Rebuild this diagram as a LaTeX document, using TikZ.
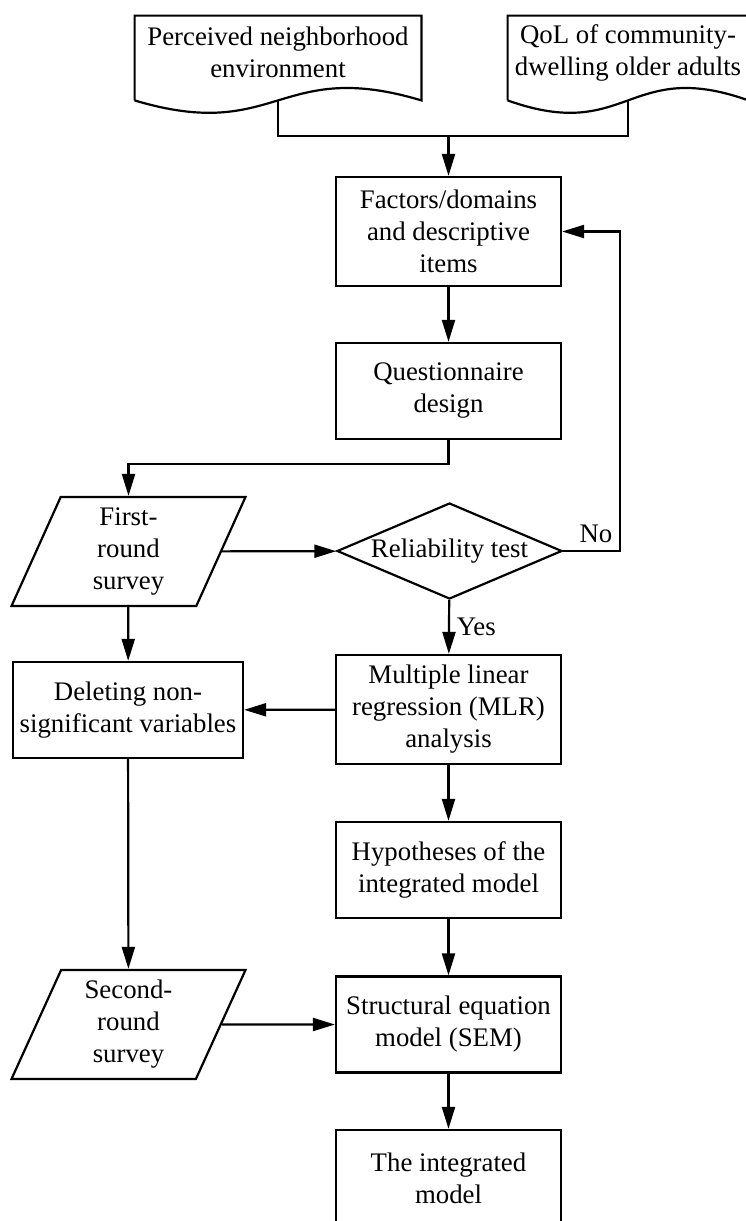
\documentclass[tikz,border=0pt]{standalone}
\usepackage{fontspec}
\setmainfont{Liberation Serif}
\usetikzlibrary{shapes.geometric,arrows.meta,calc}

\tikzset{
  stage/.style={draw, line width=1.1pt, minimum width=112.5pt, minimum height=48pt, inner xsep=2pt, align=center},
  survey/.style={draw, line width=1.1pt, trapezium, trapezium left angle=64, trapezium right angle=116,
    trapezium stretches body, minimum width=117pt, minimum height=54.5pt, inner xsep=2pt, align=center},
  check/.style={draw, line width=1.1pt, diamond, aspect=2.34, minimum width=112.5pt, minimum height=48pt,
    inner sep=0pt, align=center},
  source/.style={minimum width=143pt, minimum height=36.5pt, align=center},
  flow/.style={line width=1.1pt, -{Triangle[length=11pt,width=6.5pt]}},
  link/.style={line width=1.1pt}
}

\begin{document}
\begin{tikzpicture}[x=0.5pt, y=-0.5pt, font=\fontsize{13.4pt}{16pt}\selectfont]
\useasboundingbox (0,0) rectangle (745,1221);
% input documents
\node[source] (env) at (278,52.5) {Perceived neighborhood\\environment};
\node[source, minimum width=120pt] (qol) at (628,52.5) {QoL of community-\\dwelling older adults};
\foreach \d in {env,qol} {
  \coordinate (\d-tip) at ([yshift=-5.5pt]\d.south);
  \draw[link] ([yshift=-5.5pt]\d.south west) -- (\d.north west) -- (\d.north east) -- ([yshift=-5.5pt]\d.south east)
    .. controls ($(\d-tip)+(0,-43)$) and ($(\d-tip)+(0,43)$) .. ([yshift=-5.5pt]\d.south west);
}

% main column
\node[stage, minimum height=54.5pt] (factors) at (448.5,231.5) {Factors/domains\\and descriptive\\items};
\node[stage] (design) at (448.5,391) {Questionnaire\\design};
\node[survey] (round1) at (128.5,551.5) {First-\\round\\survey};
\node[check] (test) at (449.5,551) {Reliability test};
\node[stage, minimum height=54.5pt] (mlr) at (448.5,709.5) {Multiple linear\\regression (MLR)\\analysis};
\node[stage, minimum width=115pt] (delete) at (128,710) {Deleting non-\\significant variables};
\node[stage] (hyp) at (448.5,870) {Hypotheses of the\\integrated model};
\node[survey] (round2) at (128.5,1024.5) {Second-\\round\\survey};
\node[stage] (sem) at (448.5,1024.5) {Structural equation\\model (SEM)};
\node[stage] (model) at (448.5,1178) {The integrated\\model};

% connectors
\coordinate (join) at (448.5,136);
\draw[link] (env-tip) |- (join) -| (qol-tip);
\draw[flow] (join) -- (factors);
\draw[flow] (factors) -- (design);
\draw[flow] (design.south) -- ++(0,24) -| (round1.north);
\draw[flow] (round1) -- (test);
\draw[flow] (test.east) -- ++(57,0) node[above left] {No} |- (factors.east);
\draw[flow] (test) -- node[right] {Yes} (mlr);
\draw[flow] (round1) -- (delete);
\draw[flow] (mlr) -- (delete);
\draw[flow] (mlr) -- (hyp);
\draw[flow] (delete) -- (round2);
\draw[flow] (hyp) -- (sem);
\draw[flow] (round2) -- (sem);
\draw[flow] (sem) -- (model);
\end{tikzpicture}
\end{document}
